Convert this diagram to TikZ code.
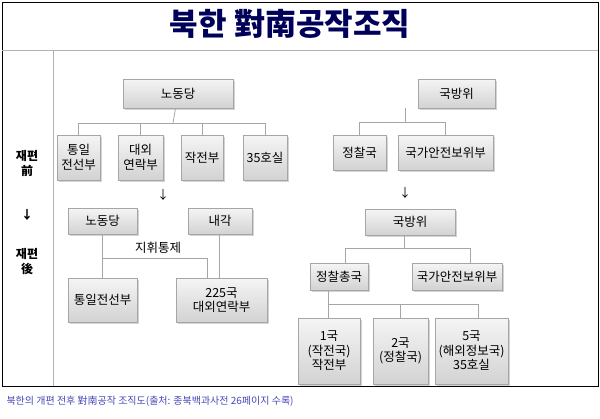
\documentclass[tikz,border=0pt]{standalone}
\usepackage{fontspec}
\setmainfont{Noto Sans CJK KR}
\usetikzlibrary{shadows}

\tikzset{
  org/.style={draw=gray!70, top color=gray!8, bottom color=gray!35, drop shadow={opacity=0.35, shadow xshift=1.5pt, shadow yshift=-1.5pt},
    align=center, inner sep=1pt, font=\fontsize{12.5}{14.5}\selectfont},
  link/.style={draw=gray!70, line width=0.8pt},
  side/.style={font=\bfseries\fontsize{12}{15}\selectfont}
}
\newcommand{\orgbox}[6]{\node[org, minimum width=#4-#2, minimum height=#5-#3] (#1) at ({(#2+#4)/2},{(#3+#5)/2}) {#6};}

\begin{document}
\begin{tikzpicture}[x=1pt,y=-1pt]
\useasboundingbox (0,0) rectangle (600,418);
% frame
\draw[line width=0.8pt] (2,2) rectangle (598,386);
\draw[gray!60] (2,50) -- (598,50);
\draw[gray!60] (53,50) -- (53,386);
\node[font=\bfseries\fontsize{31}{33}\selectfont, text=blue!35!black] (title) at (290,24) {북한 對南공작조직};
\node[anchor=west, text=blue!45!gray, font=\fontsize{10}{12}\selectfont] (cap) at (3,401) {북한의 개편 전후 對南공작 조직도(출처: 종북백과사전 26페이지 수록)};

% left labels
\node[side, align=center] (before) at (27,163) {재편\\前};
\node[side] (turn) at (27,215) {↓};
\node[side, align=center] (after) at (27,262) {재편\\後};

% before: party
\orgbox{ldang}{123}{79}{233}{108}{노동당}
\orgbox{tong}{57}{135}{100}{180}{통일\\전선부}
\orgbox{daeoe}{118}{135}{163}{180}{대외\\연락부}
\orgbox{jak}{181}{135}{223}{180}{작전부}
\orgbox{ho}{243}{135}{287}{180}{35호실}
\coordinate (lbus) at (173,123);
\draw[link] (ldang) -- (lbus);
\draw[link] (tong.north |- lbus) -- (ho.north |- lbus);
\foreach \n in {tong,daeoe,jak,ho} \draw[link] (\n.north |- lbus) -- (\n.north);

% before: defence
\orgbox{gbang}{418}{79}{495}{108}{국방위}
\orgbox{jchal}{333}{135}{386}{170}{정찰국}
\orgbox{gan}{398}{135}{493}{170}{국가안전보위부}
\coordinate (rbus) at (405,122);
\draw[link] (gbang.south -| rbus) -- (rbus);
\draw[link] (jchal.north |- rbus) -- (gan.north |- rbus);
\foreach \n in {jchal,gan} \draw[link] (\n.north |- rbus) -- (\n.north);

\node[font=\fontsize{12}{14}\selectfont] (larr) at (163,195) {↓};
\node[font=\fontsize{12}{14}\selectfont] (rarr) at (405,193) {↓};

% after: party
\orgbox{ldang2}{68}{208}{137}{234}{노동당}
\orgbox{naegak}{188}{208}{252}{234}{내각}
\orgbox{tong2}{68}{278}{137}{322}{통일전선부}
\orgbox{k225}{176}{278}{267}{322}{225국\\대외연락부}
\coordinate (cmd) at (103,258);
\draw[link] (ldang2) -- (tong2);
\draw[link] (cmd) -- (cmd -| 207,0) -- (k225.north -| 207,0);
\draw[link] (naegak.south -| 219,0) -- (k225.north -| 219,0);
\node[font=\fontsize{12.5}{14}\selectfont] (cmdlabel) at (158,248) {지휘통제};

% after: defence
\orgbox{gbang2}{365}{209}{455}{235}{국방위}
\orgbox{jchong}{310}{263}{368}{290}{정찰총국}
\orgbox{gan2}{412}{263}{502}{290}{국가안전보위부}
\orgbox{k1}{298}{318}{360}{384}{1국\\(작전국)\\작전부}
\orgbox{k2}{373}{318}{428}{384}{2국\\(정찰국)}
\orgbox{k5}{435}{318}{508}{384}{5국\\(해외정보국)\\35호실}
\coordinate (rbus2) at (404,248);
\draw[link] (gbang2.south -| rbus2) -- (rbus2);
\draw[link] (345,248) -- (470,248);
\draw[link] (345,248) -- (jchong.north -| 345,0);
\draw[link] (470,248) -- (gan2.north -| 470,0);
\coordinate (kbus) at (328,304);
\draw[link] (jchong.south -| kbus) -- (kbus) -- (478,304);
\draw[link] (kbus) -- (k1.north -| kbus);
\draw[link] (400,304) -- (k2.north -| 400,0);
\draw[link] (478,304) -- (k5.north -| 478,0);
\end{tikzpicture}
\end{document}
